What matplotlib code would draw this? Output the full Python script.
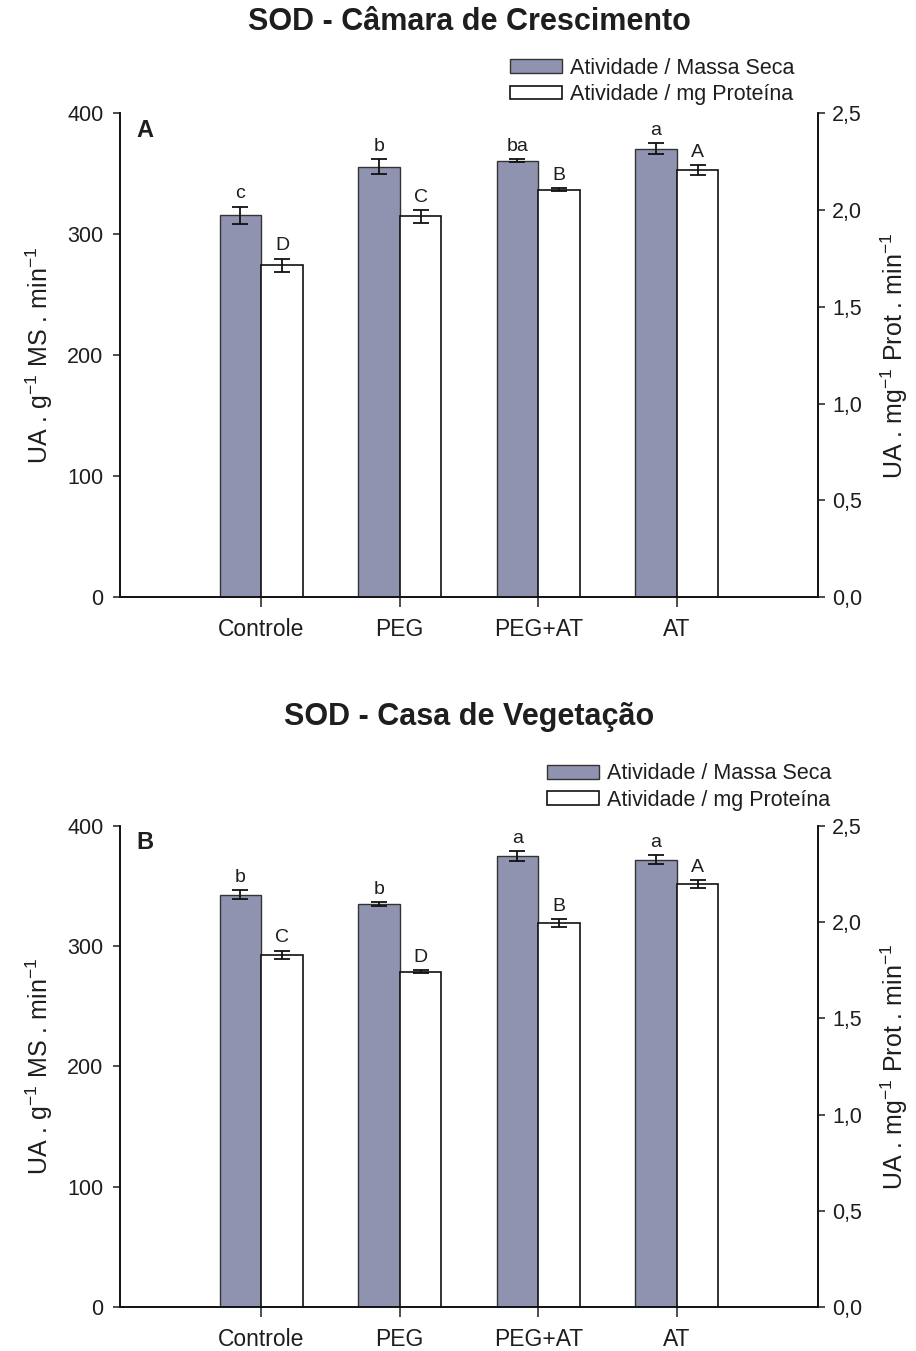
import numpy as np
import matplotlib
matplotlib.use("Agg")
import matplotlib.pyplot as plt
from matplotlib.patches import Patch

plt.rcParams['font.family'] = ['Liberation Sans', 'DejaVu Sans']
plt.rcParams['mathtext.default'] = 'regular'

# data
categories = ["Controle", "PEG", "PEG+AT", "AT"]

# panel A - growth chamber
a_ms = [316, 356, 361, 371]
a_ms_err = [7, 6, 1.5, 4.5]
a_prot = [1.715, 1.968, 2.106, 2.206]
a_prot_err = [0.035, 0.033, 0.008, 0.026]
a_ms_letters = ["c", "b", "ba", "a"]
a_prot_letters = ["D", "C", "B", "A"]

# panel B - greenhouse
b_ms = [343, 335, 375, 372]
b_ms_err = [3.9, 1.5, 4.2, 3.7]
b_prot = [1.831, 1.743, 1.997, 2.199]
b_prot_err = [0.021, 0.008, 0.021, 0.022]
b_ms_letters = ["b", "b", "a", "a"]
b_prot_letters = ["C", "D", "B", "A"]

gray = "#9093b0"
txt = "#1e1e1e"
fs = 15.5

fig = plt.figure(figsize=(9.16, 13.51), dpi=100)


def panel(rect, ms, ms_err, prot, prot_err, ms_let, prot_let, tag, title, title_y, leg_xy):
    ax = fig.add_axes(rect)
    ax2 = ax.twinx()
    x = np.arange(len(categories))
    w = 0.3
    ax.bar(x - w / 2, ms, w, color=gray, edgecolor="#333333", linewidth=1.0, zorder=2)
    ax.errorbar(x - w / 2, ms, yerr=ms_err, fmt="none", ecolor="#111111",
                elinewidth=1.3, capsize=5.5, capthick=1.3, zorder=3)
    ax2.bar(x + w / 2, prot, w, color="white", edgecolor="#111111", linewidth=1.2, zorder=2)
    ax2.errorbar(x + w / 2, prot, yerr=prot_err, fmt="none", ecolor="#111111",
                 elinewidth=1.3, capsize=5.5, capthick=1.3, zorder=3)
    for xi, v, e, l in zip(x, ms, ms_err, ms_let):
        ax.annotate(l, (xi - w / 2, v + e), xytext=(0, 3), textcoords="offset points",
                    ha="center", va="bottom", fontsize=14, color=txt)
    for xi, v, e, l in zip(x, prot, prot_err, prot_let):
        ax2.annotate(l, (xi + w / 2, v + e), xytext=(0, 3), textcoords="offset points",
                     ha="center", va="bottom", fontsize=14, color=txt)

    ax.set_xlim(-1.02, 4.02)
    ax.set_ylim(0, 400)
    ax2.set_ylim(0, 2.5)
    ax.set_yticks([0, 100, 200, 300, 400])
    ax2.set_yticks([0, 0.5, 1.0, 1.5, 2.0, 2.5])
    ax2.set_yticklabels([f"{t:.1f}".replace(".", ",") for t in ax2.get_yticks()])
    ax.set_xticks(x)
    ax.set_xticklabels(categories)
    for a in (ax, ax2):
        a.spines["top"].set_visible(False)
        for s in a.spines.values():
            s.set_color("#111111")
            s.set_linewidth(1.2)
        a.tick_params(labelsize=fs, colors=txt, length=5, width=1.1, direction="out")
    ax.tick_params(axis="y", pad=7)
    ax.tick_params(axis="x", length=7, pad=8, labelsize=16.5)
    ax2.tick_params(axis="y", pad=5)

    ax.set_ylabel("UA . g$^{-1}$ MS . min$^{-1}$", fontsize=18, color=txt)
    ax.yaxis.set_label_coords(-0.093, 0.5)
    ax2.set_ylabel("UA . mg$^{-1}$ Prot . min$^{-1}$", fontsize=18, color=txt)
    ax2.yaxis.set_label_coords(1.087, 0.5)

    ax.text(0.036, 0.965, tag, transform=ax.transAxes, fontsize=17, fontweight="bold",
            ha="center", va="center", color=txt)
    fig.text(0.512, title_y, title, fontsize=22, fontweight="bold", ha="center",
             va="center", color=txt)

    handles = [Patch(facecolor=gray, edgecolor="#333333", linewidth=1.0),
               Patch(facecolor="white", edgecolor="#111111", linewidth=1.2)]
    fig.legend(handles, ["Atividade / Massa Seca", "Atividade / mg Proteína"],
               loc="center left", bbox_to_anchor=leg_xy, frameon=False, fontsize=fs,
               handlelength=2.4, handleheight=0.6, handletextpad=0.4, labelspacing=0.25,
               borderpad=0, borderaxespad=0, labelcolor=txt)
    return ax, ax2


panel([0.131, 0.558, 0.762, 0.358], a_ms, a_ms_err, a_prot, a_prot_err,
      a_ms_letters, a_prot_letters, "A", "SOD - Câmara de Crescimento", 0.9837,
      (0.5568, 0.9397))
panel([0.131, 0.0326, 0.762, 0.356], b_ms, b_ms_err, b_prot, b_prot_err,
      b_ms_letters, b_prot_letters, "B", "SOD - Casa de Vegetação", 0.4693,
      (0.597, 0.4175))

fig.savefig("out.png", dpi=100)
